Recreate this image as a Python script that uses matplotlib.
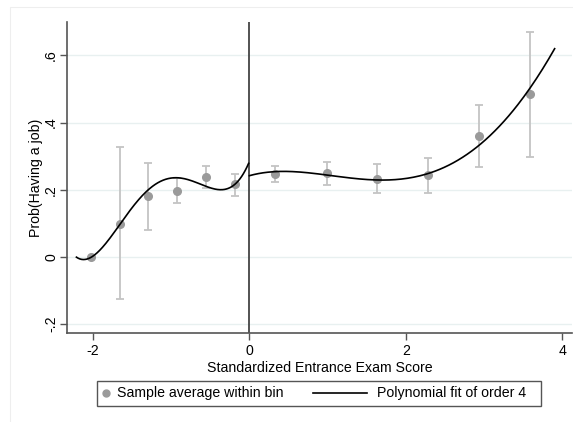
import numpy as np
import matplotlib
matplotlib.use("Agg")
import matplotlib.pyplot as plt
from matplotlib.lines import Line2D
from matplotlib.patches import Rectangle

plt.rcParams['font.family'] = ['Liberation Sans', 'DejaVu Sans']

# bin averages with confidence bounds
bin_x = [-2.03, -1.65, -1.29, -0.92, -0.55, -0.18, 0.33, 0.99, 1.63, 2.28, 2.93, 3.58]
bin_y = [0.000, 0.099, 0.180, 0.197, 0.238, 0.216, 0.246, 0.250, 0.233, 0.243, 0.359, 0.484]
bin_lo = [0.000, -0.126, 0.081, 0.159, 0.205, 0.180, 0.223, 0.215, 0.190, 0.191, 0.267, 0.298]
bin_hi = [0.000, 0.327, 0.280, 0.235, 0.272, 0.246, 0.270, 0.283, 0.276, 0.295, 0.451, 0.671]

# points, each side of the cutoff
left_x = [-2.21, -2.075, -1.905, -1.78, -1.66, -1.48, -1.29, -1.10, -0.917, -0.713, -0.543, -0.35, -0.20, -0.074, -0.01]
left_y = [0.002, -0.010, 0.015, 0.059, 0.099, 0.159, 0.193, 0.226, 0.236, 0.226, 0.210, 0.200, 0.213, 0.248, 0.279]
right_x = [0.0, 0.198, 0.45, 0.79, 1.13, 1.43, 1.73, 2.07, 2.27, 2.60, 2.92, 3.24, 3.58, 3.90]
right_y = [0.243, 0.250, 0.253, 0.250, 0.240, 0.233, 0.230, 0.236, 0.243, 0.278, 0.332, 0.406, 0.495, 0.622]

y_ticks = [-0.2, 0, 0.2, 0.4, 0.6]
y_labels = ['-.2', '0', '.2', '.4', '.6']
x_ticks = [-2, 0, 2, 4]

fs = 10.2

fig = plt.figure(figsize=(5.73, 4.22), dpi=100)
ax = fig.add_axes([0.117, 0.211, 0.881, 0.737])

# outer graph region border
fig.patches.append(Rectangle((0.0175, -0.01), 1.0, 0.994, transform=fig.transFigure,
                             fill=False, edgecolor='#eeeeee', lw=0.8))

for t in y_ticks:
    ax.axhline(t, color='#e8f0f0', lw=1.0, zorder=0)

bin_y = np.array(bin_y)
yerr = [bin_y - np.array(bin_lo), np.array(bin_hi) - bin_y]
ax.errorbar(bin_x[1:], bin_y[1:], yerr=[yerr[0][1:], yerr[1][1:]], fmt='none',
            ecolor='#c4c4c4', elinewidth=1.3, capsize=3.2, capthick=1.3, zorder=2)
ax.plot(bin_x, bin_y, 'o', color='#9a9a9a', ms=5.5, zorder=3)

# order-4 polynomial fits on each side of the cutoff
for cx, cy in [(left_x, left_y), (right_x, right_y)]:
    coef = np.polyfit(cx, cy, 4)
    xs = np.linspace(min(cx), max(cx), 200)
    ax.plot(xs, np.polyval(coef, xs), color='black', lw=1.2, zorder=4)

ax.axvline(0, color='#444444', lw=1.3, zorder=1)

ax.set_xlim(-2.33, 4.12)
ax.set_ylim(-0.227, 0.70)
ax.set_xticks(x_ticks)
ax.set_xticklabels([str(v) for v in x_ticks])
ax.set_yticks(y_ticks)
ax.set_yticklabels(y_labels, rotation=90, va='center')
ax.tick_params(labelsize=fs, length=5, width=1, color='#555555')
ax.tick_params(axis='y', pad=1.5)
ax.tick_params(axis='x', pad=3)

for s in ['top', 'right']:
    ax.spines[s].set_visible(False)
for s in ['left', 'bottom']:
    ax.spines[s].set_color('#555555')
    ax.spines[s].set_linewidth(1.2)

ax.set_xlabel('Standardized Entrance Exam Score', fontsize=fs, labelpad=2)
ax.set_ylabel('Prob(Having a job)', fontsize=fs, labelpad=1)

# legend drawn by hand to match the layout
fig.patches.append(Rectangle((0.170, 0.0386), 0.774, 0.0593, transform=fig.transFigure,
                             fill=False, edgecolor='#555555', lw=1.0))
ly = 0.068
fig.lines.append(Line2D([0.185], [ly], transform=fig.transFigure, marker='o',
                        color='#9a9a9a', ms=5, ls='none'))
fig.text(0.205, ly, 'Sample average within bin', fontsize=fs, va='center')
fig.lines.append(Line2D([0.546, 0.640], [ly, ly], transform=fig.transFigure,
                        color='black', lw=1.2))
fig.text(0.658, ly, 'Polynomial fit of order 4', fontsize=fs, va='center')

fig.savefig('out.png', dpi=100)
